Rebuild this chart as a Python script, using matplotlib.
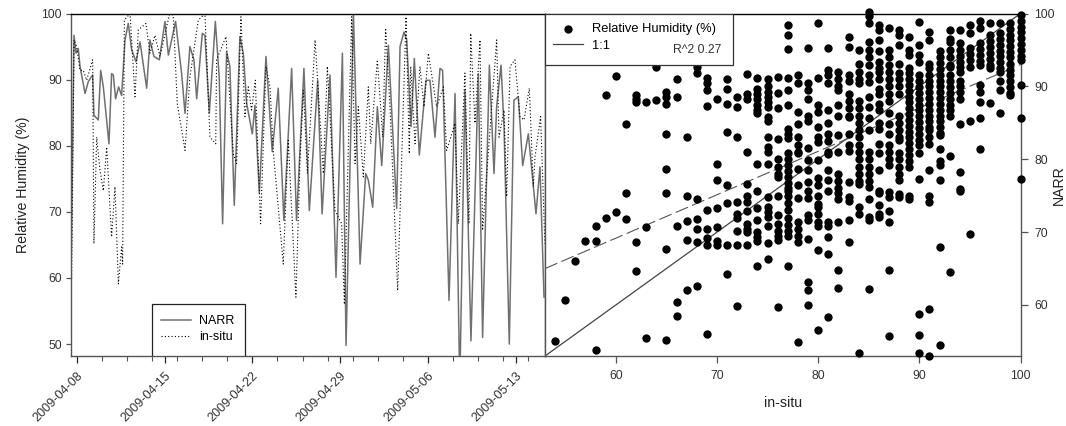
import matplotlib
matplotlib.use('Agg')
import matplotlib.pyplot as plt
import matplotlib.dates as mdates
from matplotlib.patches import Rectangle
import numpy as np

plt.rcParams['font.family'] = ['Liberation Sans', 'DejaVu Sans']

# time series, days since 2009-04-08 at each turning point
narr_days = [-0.48, -0.24, -0.08, 0.10, 0.24, 0.64, 0.90, 1.25, 1.35, 1.70, 1.89, 2.10, 2.55, 2.76, 2.90, 3.08, 3.32, 3.56, 3.83, 4.09,
             4.36, 4.71, 5.03, 5.56, 5.82, 6.14, 6.57, 7.02, 7.29, 7.87, 8.35, 8.62, 9.01, 9.33, 9.55, 10.0, 10.21, 10.56, 11.04, 11.35,
             11.62, 11.94, 12.2, 12.55, 13.0, 13.27, 13.54, 13.99, 14.2, 14.55, 15.08, 15.58, 16.06, 16.51, 17.13, 17.52, 18.11, 18.54,
             19.21, 19.56, 20.19, 20.67, 21.18, 21.47, 22.06, 22.59, 23.04, 23.25, 23.6, 23.97, 24.32, 24.85, 25.51, 25.78, 26.1, 26.31,
             26.66, 26.92, 27.32, 27.85, 28.17, 28.57, 28.97, 29.18, 29.69, 30.17, 30.51, 30.59, 30.96, 31.44, 32.03, 32.37, 32.91, 33.28,
             33.49, 33.84, 34.08, 34.5, 34.87, 35.22, 35.57, 36.02, 36.63, 36.95, 37.27]
narr_vals = [60.1, 96.7, 94.0, 94.7, 92.0, 87.9, 89.7, 90.7, 84.6, 83.9, 91.4, 88.9, 80.3, 90.9, 90.7, 87.1, 88.9, 87.6, 96.0, 98.5,
             94.5, 92.7, 95.7, 88.7, 96.0, 93.5, 93.0, 98.8, 93.7, 98.8, 90.9, 84.9, 95.0, 93.0, 87.1, 97.0, 96.7, 84.9, 98.8, 90.4,
             68.2, 94.2, 92.0, 71.0, 96.5, 94.0, 86.4, 81.8, 86.1, 72.8, 93.5, 79.1, 88.7, 68.7, 91.7, 68.7, 91.7, 70.2,
             89.9, 69.7, 90.7, 60.1, 94.0, 49.8, 100.0, 62.1, 75.8, 74.8, 70.7, 85.9, 77.0, 95.2, 70.5, 95.0, 97.2, 96.0,
             82.9, 93.2, 78.6, 89.9, 89.9, 81.3, 91.7, 91.4, 56.6, 87.9, 48.0, 48.0, 88.4, 50.5, 90.9, 51.0, 92.2, 75.8,
             85.9, 92.2, 82.9, 50.0, 86.9, 87.4, 77.0, 81.8, 69.7, 76.8, 57.1]

insitu_days = [-0.43, -0.24, -0.03, 0.24, 0.5, 0.77, 1.25, 1.35, 1.57, 1.83, 2.1, 2.37, 2.76, 3.03, 3.3, 3.56, 3.64, 3.78, 4.23, 4.63,
               4.89, 5.5, 5.82, 6.22, 6.62, 7.37, 7.68, 8.0, 8.62, 9.01, 9.68, 10.21, 10.61, 11.07, 11.14, 11.89, 12.47, 12.74, 13.08, 13.4,
               13.67, 13.93, 14.23, 14.65, 15.08, 15.4, 15.66, 16.46, 16.86, 17.47, 17.8, 18.07, 18.39, 19.0, 19.66, 19.98, 20.59, 21.12,
               21.34, 21.92, 22.19, 22.45, 22.85, 23.25, 23.44, 23.97, 24.4, 24.63, 24.98, 25.59, 26.26, 26.52, 26.63, 26.98, 27.37, 27.69,
               28.04, 28.7, 29.24, 29.5, 30.17, 30.43, 30.96, 31.28, 31.42, 31.76, 32.16, 32.37, 33.49, 33.68, 34.08, 34.29, 34.56, 34.95,
               35.35, 35.67, 36.1, 36.42, 36.55, 37.0, 37.34]
insitu_vals = [60.0, 96.0, 95.0, 91.4, 91.4, 89.9, 93.0, 65.2, 81.3, 76.3, 73.2, 79.8, 66.2, 73.8, 59.1, 64.7, 62.1, 99.0, 100.0, 87.4,
               97.5, 98.5, 94.0, 96.7, 93.5, 99.8, 99.8, 86.4, 79.3, 90.4, 99.0, 100.0, 81.3, 80.3, 93.0, 96.5, 78.8, 77.3, 99.5, 84.4,
               88.9, 85.4, 89.9, 68.2, 92.0, 88.9, 79.3, 62.1, 80.8, 57.1, 78.0, 88.4, 75.8, 96.0, 75.8, 92.0, 70.2, 68.2,
               56.0, 99.5, 77.3, 85.9, 75.3, 88.9, 80.3, 93.0, 81.3, 97.8, 85.9, 58.1, 99.5, 78.8, 92.0, 80.3, 92.0, 85.9,
               94.0, 85.9, 88.9, 79.3, 83.4, 68.2, 91.0, 68.2, 97.0, 83.4, 96.0, 67.2, 96.0, 81.3, 85.4, 72.3, 92.0, 93.0,
               84.4, 83.9, 88.7, 73.8, 78.3, 84.4, 65.2]

date_labels = ['2009-04-08', '2009-04-15', '2009-04-22', '2009-04-29', '2009-05-06', '2009-05-13']

# scatter, NARR values grouped by integer in-situ value
insitu_low = list(range(54, 70))
narr_low = [[55.1], [60.7], [66.1], [68.8], [68.8, 70.8, 53.8], [88.8, 72.0], [91.4, 72.8], [84.8, 75.4, 71.8],
            [88.8, 88.3, 87.9, 68.6, 64.7], [87.9, 70.7, 55.5], [92.7, 88.1],
            [89.2, 88.6, 87.6, 83.5, 78.7, 75.4, 67.7, 55.2], [91.0, 88.6, 70.9, 60.4, 58.5],
            [83.0, 75.0, 71.5, 68.9, 62.0], [92.7, 91.8, 74.6, 71.8, 70.4, 68.7, 62.6],
            [91.1, 90.4, 89.5, 87.3, 73.0, 70.4, 69.2, 68.2, 56.0]]

insitu_mid = list(range(70, 80))
narr_mid = [[88.3, 79.4, 77.1, 73.3, 70.7, 68.8, 68.2],
            [91.0, 89.6, 87.6, 83.7, 76.4, 74.0, 68.2, 64.3],
            [88.6, 87.2, 83.1, 74.2, 72.5, 72.0, 70.2, 68.3, 59.9],
            [91.7, 89.0, 88.3, 81.0, 76.6, 75.0, 74.2, 72.9, 71.1, 70.4, 70.0, 68.2],
            [91.2, 89.7, 89.0, 88.2, 87.4, 86.8, 86.3, 79.4, 75.7, 73.3, 71.7, 70.0, 69.3, 68.8, 65.3],
            [91.0, 90.0, 89.2, 88.5, 87.8, 87.2, 85.8, 85.3, 83.0, 81.7, 81.0, 79.4, 74.8, 73.4, 72.7, 72.1, 70.8, 68.5, 66.3],
            [91.3, 89.1, 87.1, 82.8, 80.0, 79.0, 78.0, 77.5, 75.0, 72.3, 71.1, 70.2, 69.5, 68.9, 59.7],
            [98.4, 97.0, 95.1, 91.1, 89.5, 87.4, 84.2, 83.4, 82.9, 80.8, 80.0, 79.2, 78.4, 77.6, 76.8, 76.0, 75.7, 75.0, 74.0, 73.0, 72.0, 71.0, 70.2, 69.5, 65.3],
            [91.5, 90.4, 86.5, 84.9, 83.0, 82.0, 81.0, 80.8, 78.7, 76.4, 74.7, 71.4, 70.4, 69.5, 68.6, 54.9],
            [95.2, 90.4, 89.5, 88.3, 86.0, 85.3, 81.5, 79.9, 78.5, 76.9, 75.7, 74.7, 72.3, 71.6, 69.1, 63.1, 62.0, 60.0]]

insitu_upper = list(range(80, 90))
narr_upper = [[98.7, 91.1, 87.4, 86.5, 84.4, 83.0, 82.4, 79.9, 77.4, 76.4, 75.0, 73.9, 73.4, 72.5, 71.4, 70.8, 67.5, 56.6],
              [95.2, 92.2, 91.5, 90.4, 86.7, 85.0, 83.5, 82.5, 81.0, 80.7, 78.5, 77.1, 75.7, 71.4, 70.8, 69.3, 67.0, 58.4],
              [92.0, 91.0, 90.0, 89.5, 87.4, 86.0, 83.3, 81.0, 78.0, 77.0, 76.0, 75.3, 74.6, 71.4, 64.8, 62.3],
              [96.8, 95.4, 91.5, 90.8, 89.0, 88.0, 87.0, 86.0, 85.8, 83.5, 82.0, 81.2, 76.9, 74.8, 74.3, 71.7, 68.6],
              [95.0, 93.1, 92.0, 91.0, 90.4, 88.0, 87.0, 86.0, 85.0, 84.0, 83.0, 82.0, 81.0, 80.0, 79.0, 78.0, 77.0, 76.6, 73.5, 72.5, 53.4],
              [100.2, 99.6, 98.7, 96.1, 95.0, 94.0, 93.0, 91.5, 90.6, 88.5, 87.2, 85.6, 84.0, 81.0, 80.0, 79.0, 78.0, 77.0, 76.2, 74.6, 72.1, 71.7, 62.2],
              [98.4, 97.7, 96.4, 94.8, 93.4, 92.5, 92.0, 91.0, 89.7, 89.0, 87.6, 86.7, 85.0, 84.2, 82.1, 80.8, 78.5, 75.7, 75.3, 73.7, 72.5, 72.1],
              [98.0, 95.0, 94.0, 93.0, 92.0, 91.0, 90.0, 89.0, 88.0, 86.3, 84.9, 83.5, 82.0, 81.0, 80.0, 79.2, 75.5, 74.8, 72.9, 71.4, 64.8, 55.8],
              [97.7, 97.0, 95.7, 93.1, 91.8, 91.0, 90.0, 89.0, 86.0, 85.0, 84.0, 83.0, 82.6, 80.8, 80.0, 79.0, 78.0, 77.1, 75.2, 74.8],
              [96.8, 95.0, 94.3, 92.5, 91.8, 91.0, 90.2, 89.4, 88.6, 87.8, 87.0, 86.2, 85.4, 84.6, 83.8, 83.0, 82.2, 81.4, 80.6, 79.8, 79.0, 75.0, 74.5]]

insitu_high = list(range(90, 101))
narr_high = [[98.9, 95.7, 94.3, 93.4, 91.5, 90.7, 89.9, 89.1, 88.3, 87.5, 86.7, 85.9, 85.1, 84.3, 83.5, 82.7, 81.9, 80.8, 77.3, 58.8, 55.9, 53.4],
             [97.5, 96.4, 93.1, 92.5, 91.5, 90.8, 90.0, 89.2, 88.4, 87.6, 86.8, 86.0, 85.2, 84.4, 84.0, 83.0, 82.1, 78.5, 75.0, 74.1, 59.5, 53.0],
             [94.8, 94.0, 93.2, 92.4, 91.6, 90.8, 90.0, 89.2, 88.4, 87.6, 86.8, 86.0, 85.2, 84.4, 83.6, 83.3, 81.4, 79.8, 79.2, 77.1, 68.0, 54.5],
             [97.7, 96.5, 96.1, 95.0, 94.0, 93.0, 92.7, 91.5, 90.7, 89.9, 89.1, 88.3, 87.5, 86.7, 86.0, 80.5, 64.5],
             [97.7, 95.9, 95.0, 94.2, 93.4, 92.7, 92.0, 90.8, 90.0, 89.2, 88.3, 84.9, 78.2, 75.9, 75.7],
             [98.4, 97.3, 95.2, 94.4, 93.6, 92.7, 85.3, 69.7],
             [99.0, 98.0, 95.9, 95.1, 94.3, 93.5, 93.0, 90.2, 89.2, 87.9, 85.6, 81.4],
             [98.7, 97.0, 96.2, 95.4, 94.6, 93.8, 93.0, 92.5, 87.7],
             [98.7, 97.3, 96.5, 95.7, 94.9, 94.1, 93.3, 92.5, 92.0, 90.8, 89.5, 86.3],
             [98.7, 97.9, 97.1, 96.3, 95.5, 94.7, 94.0, 93.1, 92.3, 91.5, 90.7, 89.9, 89.1, 88.8],
             [99.8, 99.0, 98.2, 97.4, 96.6, 95.8, 95.0, 94.2, 93.6, 90.2, 85.6, 77.3]]

# regression line ends, from the picture
fit_x = [53, 100]
fit_y = [65, 93]
one_to_one = [53, 100]
r_squared = 0.27

spine_grey = '#555555'
text_grey = '#333333'

fig = plt.figure(figsize=(10.66, 4.26), dpi=100)
axL = fig.add_axes([71 / 1066, 70 / 426, 474 / 1066, 342.5 / 426])
axR = fig.add_axes([545 / 1066, 70 / 426, 475.5 / 1066, 342.5 / 426])

#left panel: time series
start = mdates.date2num(np.datetime64('2009-04-08'))
axL.plot(start + np.array(narr_days), narr_vals, color='#707070', lw=1.1, solid_joinstyle='round', label='NARR')
axL.plot(start + np.array(insitu_days), insitu_vals, color='black', lw=0.8, ls=(0, (1, 2)), label='in-situ')
axL.set_xlim(start - 0.48, start + 37.35)
axL.set_ylim(48.2, 100)
axL.set_yticks([50, 60, 70, 80, 90, 100])
major = [mdates.date2num(np.datetime64(d)) for d in date_labels]
axL.set_xticks(major)
axL.set_xticklabels(date_labels, rotation=45, ha='right', rotation_mode='anchor', fontsize=9.1, color=text_grey)
axL.set_xticks(start + np.arange(0, 38, 2), minor=True)
axL.tick_params(axis='x', which='major', length=5, width=0.9, color='#222222', pad=5)
axL.tick_params(axis='x', which='minor', length=3.5, width=0.8, color=spine_grey)
axL.tick_params(axis='y', length=3.6, width=0.9, color=spine_grey, labelsize=8.8, labelcolor=text_grey, pad=3)
axL.set_ylabel('Relative Humidity (%)', fontsize=10.2, color='#222222', labelpad=8)
# legend box is drawn separately so it can be wider than its entries
axL.add_patch(Rectangle((0.171, 0), 0.196, 0.152, transform=axL.transAxes, facecolor='white', edgecolor='#222222', lw=0.9, zorder=5))
leg = axL.legend(loc='upper left', bbox_to_anchor=(0.19, 0.12), borderaxespad=0, borderpad=0, frameon=False,
                 fontsize=9, handlelength=2.4, handletextpad=0.64, labelspacing=0.36)
leg.set_zorder(6)

#right panel: scatter
scatter_x = []
scatter_y = []
for cols, rows in [(insitu_low, narr_low), (insitu_mid, narr_mid), (insitu_upper, narr_upper), (insitu_high, narr_high)]:
    for c, r in zip(cols, rows):
        scatter_x += [c] * len(r)
        scatter_y += r
axR.scatter(scatter_x, scatter_y, s=36, c='black', marker='o', linewidths=0, clip_on=False, zorder=3, label='Relative Humidity (%)')
axR.plot(one_to_one, one_to_one, color='#444444', lw=0.9, zorder=2, label='1:1')
axR.plot(fit_x, fit_y, color='#555555', lw=0.8, ls=(0, (12, 4)), zorder=2)
axR.set_xlim(53, 100)
axR.set_ylim(53, 100)
axR.set_xticks([60, 70, 80, 90, 100])
axR.set_yticks([60, 70, 80, 90, 100])
axR.yaxis.tick_right()
axR.yaxis.set_label_position('right')
axR.tick_params(axis='both', length=5, width=0.9, color=spine_grey, labelsize=8.8, labelcolor=text_grey, pad=5)
axR.set_xlabel('in-situ', fontsize=10.2, color='#222222', labelpad=10)
axR.set_ylabel('NARR', fontsize=10.2, color='#222222')
axR.yaxis.set_label_coords(1.066, 0.5)
axR.add_patch(Rectangle((0, 0.851), 0.395, 0.149, transform=axR.transAxes, facecolor='white', edgecolor='#333333', lw=0.9, zorder=5))
leg2 = axR.legend(loc='upper left', bbox_to_anchor=(0.017, 0.972), borderaxespad=0, borderpad=0, frameon=False,
                  fontsize=9.3, handlelength=2.3, handletextpad=0.7, labelspacing=0.35)
leg2.set_zorder(6)
axR.text(0.269, 0.893, 'R^2 %.2f' % r_squared, transform=axR.transAxes, ha='left', va='center', fontsize=8.8, color='#333333', zorder=7)

for ax in [axL, axR]:
    for side in ['left', 'right', 'bottom']:
        ax.spines[side].set_color(spine_grey)
        ax.spines[side].set_linewidth(1.0)
    ax.spines['top'].set_color('black')
    ax.spines['top'].set_linewidth(1.0)

fig.savefig('out.png', dpi=100)
